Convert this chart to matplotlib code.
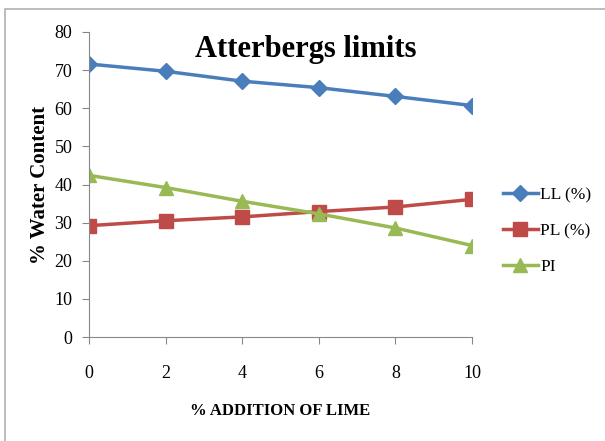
import matplotlib
matplotlib.use("Agg")
import matplotlib.pyplot as plt
from matplotlib.patches import Rectangle

lime = [0, 2, 4, 6, 8, 10]
ll = [71.6, 69.7, 67.1, 65.4, 63.1, 60.7]
pl = [29.2, 30.5, 31.5, 32.9, 34.1, 36.1]
pi = [42.4, 39.2, 35.6, 32.3, 28.6, 24.0]

plt.rcParams['font.family'] = ['Liberation Serif', 'DejaVu Serif']

W, H = 605, 441
fig = plt.figure(figsize=(W / 100, H / 100), dpi=100)
fig.patches.append(Rectangle((5 / W, -0.1), 1.2, 1 - 9 / H + 0.1,
                             transform=fig.transFigure, fill=False,
                             edgecolor='#b0b0b0', lw=1.2))

ax = fig.add_axes([89 / W, 1 - 337 / H, 383 / W, 305 / H])
ax.plot(lime, ll, color='#4a7ebb', lw=2.5, marker='D', ms=8, label='LL (%)')
ax.plot(lime, pl, color='#be4b48', lw=2.5, marker='s', ms=9.5, label='PL (%)')
ax.plot(lime, pi, color='#98b954', lw=2.5, marker='^', ms=10, label='PI')

ax.set_xlim(0, 10)
ax.set_ylim(0, 80)
ax.set_xticks(lime)
ax.set_yticks(range(0, 81, 10))
for s in ['top', 'right']:
    ax.spines[s].set_visible(False)
for s in ['left', 'bottom']:
    ax.spines[s].set_color('#888888')
ax.tick_params(axis='both', colors='#888888', labelcolor='black', labelsize=13,
               length=5, direction='out')
ax.tick_params(axis='x', pad=15)
ax.tick_params(axis='y', pad=7)

ax.set_xlabel('% ADDITION OF LIME', fontsize=12, fontweight='bold', labelpad=15)
ax.set_ylabel('% Water Content', fontsize=15, fontweight='bold', labelpad=3)
ax.text(306 / W, 1 - 50 / H, 'Atterbergs limits', transform=fig.transFigure,
        ha='center', va='center', fontsize=22, fontweight='bold')

ax.legend(loc='upper left', bbox_to_anchor=(503 / W, 1 - 187 / H),
          bbox_transform=fig.transFigure, frameon=False, borderpad=0,
          borderaxespad=0, fontsize=12.5, handlelength=2.0,
          handletextpad=0.15, labelspacing=1.15)

fig.savefig('out.png', dpi=100)
